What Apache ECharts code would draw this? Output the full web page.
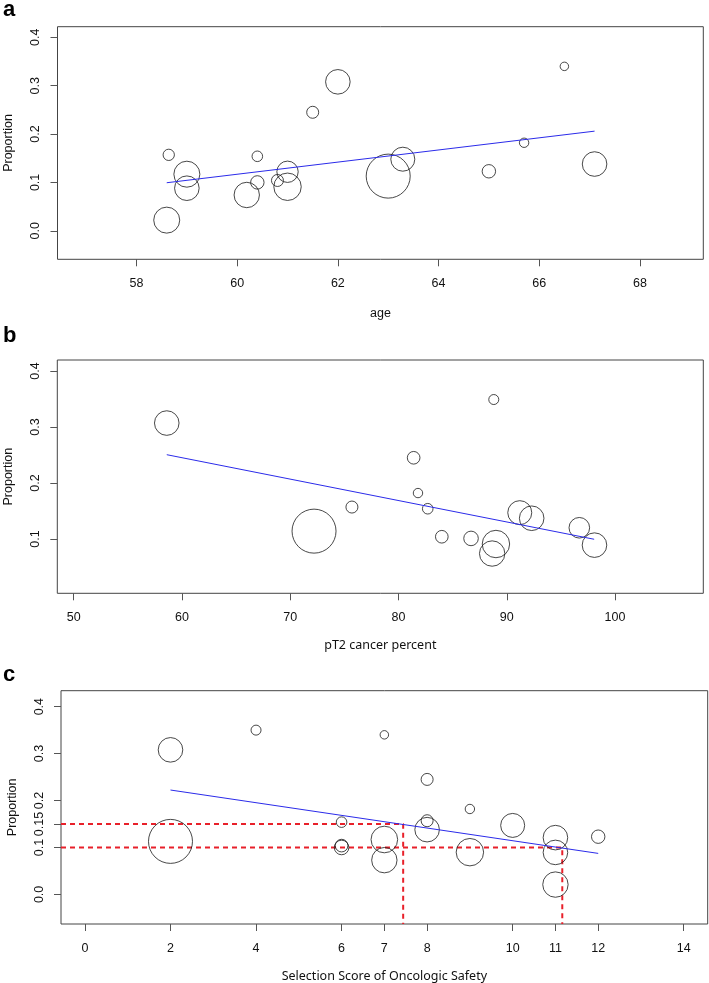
<!DOCTYPE html>
<html><head><meta charset="utf-8">
<script src="https://cdn.jsdelivr.net/npm/echarts@6/dist/echarts.min.js"></script>
<style>html,body{margin:0;padding:0;background:#fff}#c{width:709px;height:983px}</style>
</head><body><div id="c"></div>
<script>
// Panel a: age
const ageX = [58.64, 59.0, 59.0, 58.6, 60.19, 60.4, 60.4, 60.8, 61.0, 61.0, 61.5, 62.0, 63.0, 63.29, 65.0, 65.7, 66.5, 67.1];
const ageY = [0.157, 0.117, 0.088, 0.022, 0.074, 0.154, 0.100, 0.104, 0.122, 0.091, 0.245, 0.308, 0.113, 0.148, 0.123, 0.182, 0.340, 0.138];
const ageN = [32, 169, 151, 169, 161, 28, 45, 36, 114, 188, 36, 151, 484, 144, 45, 22, 18, 151];
const ageFitX = [58.6, 67.1];
const ageFitY = [0.0993, 0.206];
const ageTicks = [58, 60, 62, 64, 66, 68];

// Panel b: pT2 cancer percent
const pctX = [58.6, 72.2, 75.7, 81.4, 81.8, 82.7, 84.0, 86.7, 88.8, 89.0, 88.65, 91.2, 92.3, 96.7, 98.1];
const pctY = [0.307, 0.114, 0.157, 0.245, 0.182, 0.154, 0.104, 0.101, 0.349, 0.091, 0.074, 0.147, 0.137, 0.120, 0.089];
const pctN = [151, 484, 36, 40, 22, 28, 40, 53, 25, 188, 161, 144, 151, 106, 151];
const pctFitX = [58.6, 98.07];
const pctFitY = [0.2505, 0.0995];
const pctTicks = [50, 60, 70, 80, 90, 100];

// Panel c: selection score
const scoreX = [2, 4, 2, 6, 6, 6, 7, 7, 7, 8, 8, 8, 9, 9, 10, 11, 11, 11, 12];
const scoreY = [0.308, 0.350, 0.113, 0.154, 0.104, 0.100, 0.340, 0.117, 0.073, 0.245, 0.157, 0.138, 0.182, 0.090, 0.147, 0.121, 0.0895, 0.021, 0.123];
const scoreN = [151, 25, 484, 28, 40, 53, 18, 177, 161, 36, 36, 151, 22, 188, 144, 151, 151, 161, 45];
const scoreFitX = [2, 12];
const scoreFitY = [0.2224, 0.0874];
const scoreTicks = [0, 2, 4, 6, 7, 8, 10, 11, 12, 14];
const cutY = [0.15, 0.10];
const cutX = [7.44, 11.16];

const yTicksA = [0, 0.1, 0.2, 0.3, 0.4];
const yLabelsA = ['0.0', '0.1', '0.2', '0.3', '0.4'];
const yTicksB = [0.1, 0.2, 0.3, 0.4];
const yLabelsB = ['0.1', '0.2', '0.3', '0.4'];
const yTicksC = [0, 0.1, 0.15, 0.2, 0.3, 0.4];
const yLabelsC = ['0.0', '0.1', '0.15', '0.2', '0.3', '0.4'];

const FONT = '"Liberation Sans", Arial, sans-serif';
const FONT2 = '"Noto Sans", "Open Sans", sans-serif';

const grids = [
  {left: 57.5, top: 26.7, width: 645.8, height: 232.6},
  {left: 57.3, top: 360, width: 646, height: 233.3},
  {left: 61, top: 690.7, width: 646.7, height: 233.3}
].map(g => Object.assign({show: true, borderColor: '#444', borderWidth: 1, backgroundColor: 'transparent',
  containLabel: false, outerBoundsMode: 'none'}, g));

function xAx(i, min, max, ticks, name, nameFont, gap) {
  return {
    type: 'value', gridIndex: i, min: min, max: max,
    splitLine: {show: false},
    axisLine: {show: false, onZero: false},
    axisTick: {show: true, length: 7, inside: false, customValues: ticks, lineStyle: {color: '#555'}},
    axisLabel: {customValues: ticks, margin: 18, fontFamily: FONT, fontSize: 12.5, color: '#111'},
    name: name, nameLocation: 'middle', nameGap: gap,
    nameTextStyle: {fontFamily: nameFont, fontSize: 12.5, color: '#111'}
  };
}
function yAx(i, min, max, ticks, labels) {
  return {
    type: 'value', gridIndex: i, min: min, max: max,
    splitLine: {show: false},
    axisLine: {show: false, onZero: false},
    axisTick: {show: true, length: 7, customValues: ticks, lineStyle: {color: '#555'}},
    axisLabel: {customValues: ticks, rotate: 90, margin: 15, fontFamily: FONT, fontSize: 12.5, color: '#111',
      formatter: v => { const k = ticks.findIndex(t => Math.abs(t - v) < 1e-9); return k >= 0 ? labels[k] : ''; }},
    name: 'Proportion', nameLocation: 'middle', nameGap: 42, nameRotate: 90,
    nameTextStyle: {fontFamily: FONT, fontSize: 12.5, color: '#111'}
  };
}

function bubbles(i, xs, ys, ns) {
  return {
    type: 'scatter', xAxisIndex: i, yAxisIndex: i, silent: true,
    data: xs.map((x, k) => [x, ys[k], ns[k]]),
    symbol: 'circle',
    symbolSize: v => 2 * Math.sqrt(v[2]),
    itemStyle: {color: 'rgba(0,0,0,0)', borderColor: '#1a1a1a', borderWidth: 1},
    z: 3
  };
}
function fit(i, xs, ys) {
  return {
    type: 'line', xAxisIndex: i, yAxisIndex: i, silent: true, symbol: 'none',
    data: xs.map((x, k) => [x, ys[k]]),
    lineStyle: {color: '#2b2bea', width: 1}, z: 4
  };
}
const yMinC = -0.063;
function cut(k) {
  return {
    type: 'line', xAxisIndex: 2, yAxisIndex: 2, silent: true, symbol: 'none',
    data: [[-0.56, cutY[k]], [cutX[k], cutY[k]], [cutX[k], yMinC]],
    lineStyle: {color: '#e8202a', width: 2, type: [5, 4]}, z: 2
  };
}

const chart = echarts.init(document.getElementById('c'), null, {renderer: 'canvas'});
chart.setOption({
  animation: false,
  backgroundColor: '#fff',
  grid: grids,
  xAxis: [
    xAx(0, 56.43, 69.26, ageTicks, 'age', FONT, 48),
    xAx(1, 48.49, 108.15, pctTicks, 'pT2 cancer percent', FONT2, 46),
    xAx(2, -0.56, 14.56, scoreTicks, 'Selection Score of Oncologic Safety', FONT2, 46)
  ],
  yAxis: [
    yAx(0, -0.059, 0.422, yTicksA, yLabelsA),
    yAx(1, 0.003, 0.4196, yTicksB, yLabelsB),
    yAx(2, yMinC, 0.434, yTicksC, yLabelsC)
  ],
  series: [
    bubbles(0, ageX, ageY, ageN), fit(0, ageFitX, ageFitY),
    bubbles(1, pctX, pctY, pctN), fit(1, pctFitX, pctFitY),
    cut(0), cut(1),
    bubbles(2, scoreX, scoreY, scoreN), fit(2, scoreFitX, scoreFitY)
  ],
  graphic: [
    {type: 'text', left: 3, top: -1, style: {text: 'a', font: 'bold 22px ' + FONT, fill: '#000'}},
    {type: 'text', left: 3, top: 325, style: {text: 'b', font: 'bold 22px ' + FONT, fill: '#000'}},
    {type: 'text', left: 3, top: 664, style: {text: 'c', font: 'bold 22px ' + FONT, fill: '#000'}}
  ]
});
</script></body></html>
